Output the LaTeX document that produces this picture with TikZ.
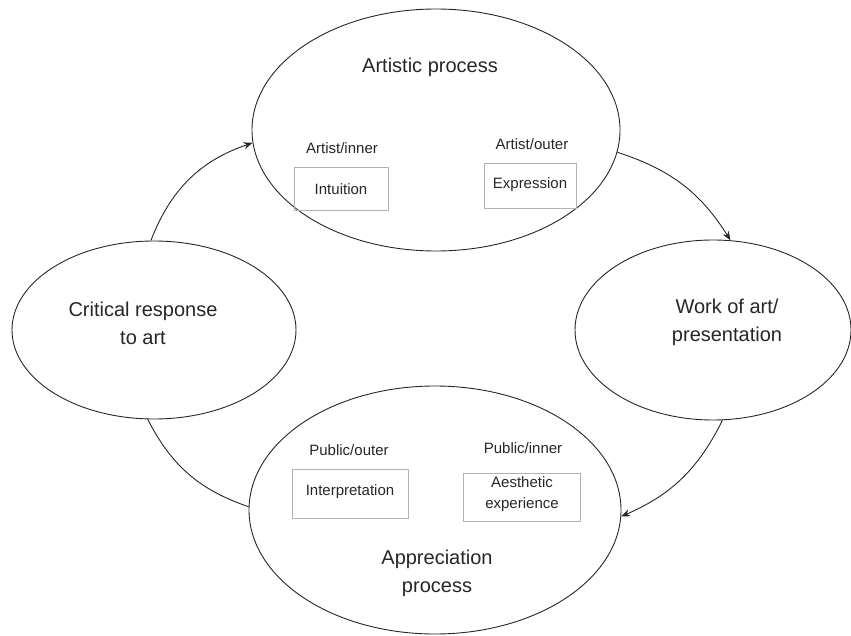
\documentclass[tikz,border=0pt]{standalone}
\usepackage{fontspec}
\setmainfont{Liberation Sans}
\usetikzlibrary{shapes.geometric,arrows.meta}
\begin{document}
\begin{tikzpicture}[x=1pt,y=1pt,
  ell/.style={ellipse,draw=black!85,line width=0.9pt,inner sep=0pt},
  big/.style={text=black!85,font=\fontsize{20}{28}\selectfont,align=center,inner sep=0pt},
  small/.style={text=black!85,font=\fontsize{15}{21}\selectfont,align=center,inner sep=0pt},
  gbox/.style={draw=black!30,line width=0.7pt,inner sep=0pt},
  conn/.style={draw=black!85,line width=0.9pt},
  arr/.style={conn,-{Stealth[length=9pt,width=7pt]}}]
\useasboundingbox (0,0) rectangle (851,-636);
% ellipses
\node[ell,minimum width=368pt,minimum height=242pt] (T) at (436,-130) {};
\node[ell,minimum width=284pt,minimum height=178pt] (L) at (154,-330) {};
\node[ell,minimum width=276pt,minimum height=180pt] (R) at (713,-330) {};
\node[ell,minimum width=372pt,minimum height=248pt] (B) at (435,-510) {};
% top contents
\node[big] (tt) at (430,-67) {Artistic process};
\node[small] (ai) at (342,-148) {Artist/inner};
\node[small] (ao) at (532,-144) {Artist/outer};
\node[gbox,minimum width=94pt,minimum height=43pt] (bi) at (341,-189) {};
\node[small] (ti) at (341,-189) {Intuition};
\node[gbox,minimum width=92pt,minimum height=45pt] (bo) at (530,-186) {};
\node[small] (to) at (530,-185) {Expression};
% side texts
\node[big] (lt) at (143,-323) {Critical response\\to art};
\node[big] (rt) at (727,-322) {Work of art/\\presentation};
% bottom contents
\node[small] (po) at (349,-450) {Public/outer};
\node[small] (pi) at (523,-448) {Public/inner};
\node[gbox,minimum width=116pt,minimum height=49pt] (bp) at (350,-494) {};
\node[small] (tp) at (350,-492) {Interpretation};
\node[gbox,minimum width=117pt,minimum height=48pt] (ba) at (522,-497) {};
\node[small] (ta) at (522,-494) {Aesthetic\\experience};
\node[big] (bt) at (437,-573) {Appreciation\\process};
% connectors
\draw[arr] (L.92) to[bend left=25] (T.184);
\draw[arr] (T.-7) to[bend left=20] (R.79);
\draw[arr] (R.-84) to[bend left=20] (B.-2);
\draw[conn] (B.179) to[bend left=22] (L.-94);
\end{tikzpicture}
\end{document}
